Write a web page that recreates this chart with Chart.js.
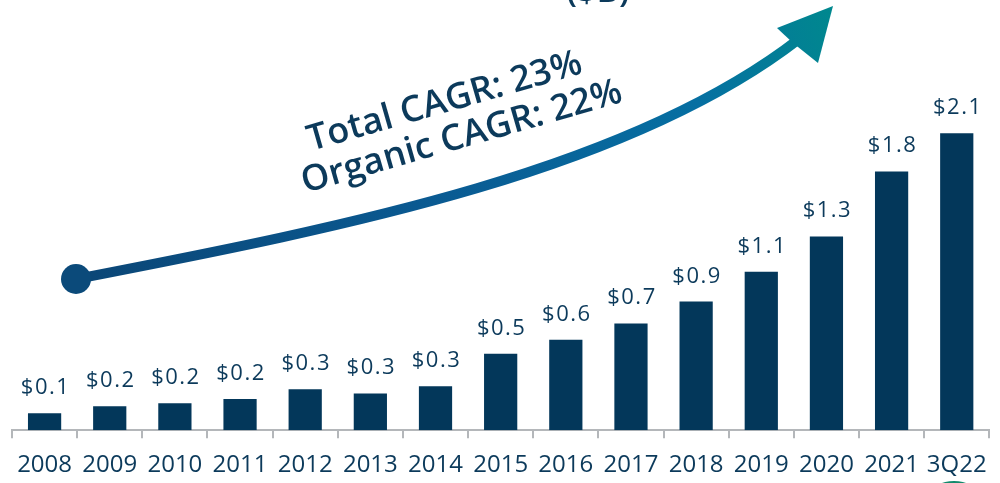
<!DOCTYPE html>
<html><head><meta charset="utf-8">
<script src="https://cdn.jsdelivr.net/npm/chart.js@4"></script>
<style>html,body{margin:0;padding:0;background:#fff;overflow:hidden}#wrap{width:1000px;height:483px;position:relative;overflow:hidden}</style>
</head><body><div id="wrap"><canvas id="c" width="1000" height="496"></canvas></div>
<script>
const categories = ['2008','2009','2010','2011','2012','2013','2014','2015','2016','2017','2018','2019','2020','2021','3Q22'];
const revenue = [0.12,0.17,0.19,0.22,0.29,0.26,0.31,0.54,0.64,0.755,0.91,1.12,1.37,1.83,2.1];
const valueLabels = ['$0.1','$0.2','$0.2','$0.2','$0.3','$0.3','$0.3','$0.5','$0.6','$0.7','$0.9','$1.1','$1.3','$1.8','$2.1'];
const cagrLines = ['Total CAGR: 23%','Organic CAGR: 22%'];
const titleFragment = '($B)';
const yMax = 3.0;

const NAVY = '#0c3a5b';
const BAR = '#03375a';
const AXIS = '#b4b7ba';

const valueLabelPlugin = {
  id: 'valueLabels',
  afterDatasetsDraw(chart) {
    const ctx = chart.ctx;
    const meta = chart.getDatasetMeta(0);
    ctx.save();
    ctx.font = '500 22px "Open Sans"';
    ctx.fillStyle = NAVY;
    ctx.textAlign = 'center';
    ctx.textBaseline = 'alphabetic';
    try { ctx.letterSpacing = '1.5px'; } catch(e) {}
    meta.data.forEach((bar, i) => {
      ctx.fillText(valueLabels[i], bar.x + 1, bar.y - 19);
    });
    ctx.restore();
  }
};

const decorPlugin = {
  id: 'decor',
  afterDraw(chart) {
    const ctx = chart.ctx;
    ctx.save();
    // cropped title fragment
    ctx.font = '600 34px "Open Sans"';
    ctx.fillStyle = NAVY;
    ctx.textAlign = 'center';
    ctx.textBaseline = 'alphabetic';
    ctx.fillText(titleFragment, 598, 2);

    // growth arrow
    const g = ctx.createLinearGradient(76, 279, 833, 6);
    g.addColorStop(0, '#0b4676');
    g.addColorStop(0.45, '#0a5a92');
    g.addColorStop(0.8, '#066fa2');
    g.addColorStop(1, '#00888e');
    ctx.strokeStyle = g;
    ctx.fillStyle = g;
    ctx.lineWidth = 10;
    ctx.lineCap = 'butt';
    ctx.beginPath();
    ctx.moveTo(76, 279);
    ctx.bezierCurveTo(350, 226, 630, 170, 799, 39);
    ctx.stroke();
    ctx.beginPath();
    ctx.moveTo(833, 6);
    ctx.lineTo(777, 28);
    ctx.lineTo(793, 43);
    ctx.lineTo(818, 63);
    ctx.closePath();
    ctx.fill();
    ctx.beginPath();
    ctx.fillStyle = '#0b4a7a';
    ctx.arc(76, 279, 15, 0, Math.PI * 2);
    ctx.fill();

    // CAGR text
    ctx.fillStyle = NAVY;
    ctx.font = '600 36px "Open Sans"';
    ctx.textAlign = 'left';
    const ang = -16 * Math.PI / 180;
    ctx.save();
    ctx.translate(311, 151);
    ctx.rotate(ang);
    ctx.fillText(cagrLines[0], 0, 0);
    ctx.restore();
    ctx.save();
    ctx.translate(305, 193);
    ctx.rotate(ang);
    ctx.fillText(cagrLines[1], 0, 0);
    ctx.restore();

    // green shape at bottom right (cropped)
    ctx.beginPath();
    ctx.fillStyle = '#138a6c';
    ctx.ellipse(954, 494, 23, 13, 0, 0, Math.PI * 2);
    ctx.fill();
    ctx.restore();
  }
};

new Chart(document.getElementById('c'), {
  type: 'bar',
  data: {
    labels: categories,
    datasets: [{
      data: revenue,
      backgroundColor: BAR,
      borderWidth: 0,
      categoryPercentage: 1,
      barPercentage: 0.51
    }]
  },
  options: {
    responsive: false,
    animation: false,
    devicePixelRatio: 1,
    layout: { padding: { left: 12, right: 10, top: 6, bottom: 3 } },
    plugins: { legend: { display: false }, tooltip: { enabled: false }, title: { display: false } },
    scales: {
      x: {
        offset: true,
        border: { display: true, color: AXIS, width: 2 },
        grid: { display: true, drawOnChartArea: false, drawTicks: true, tickLength: 8, color: AXIS, lineWidth: 2, offset: true },
        ticks: { color: NAVY, font: { family: 'Open Sans', size: 24, weight: 500 }, padding: 13, maxRotation: 0, autoSkip: false }
      },
      y: { display: false, min: 0, max: yMax }
    }
  },
  plugins: [valueLabelPlugin, decorPlugin]
});
</script>
</body></html>
